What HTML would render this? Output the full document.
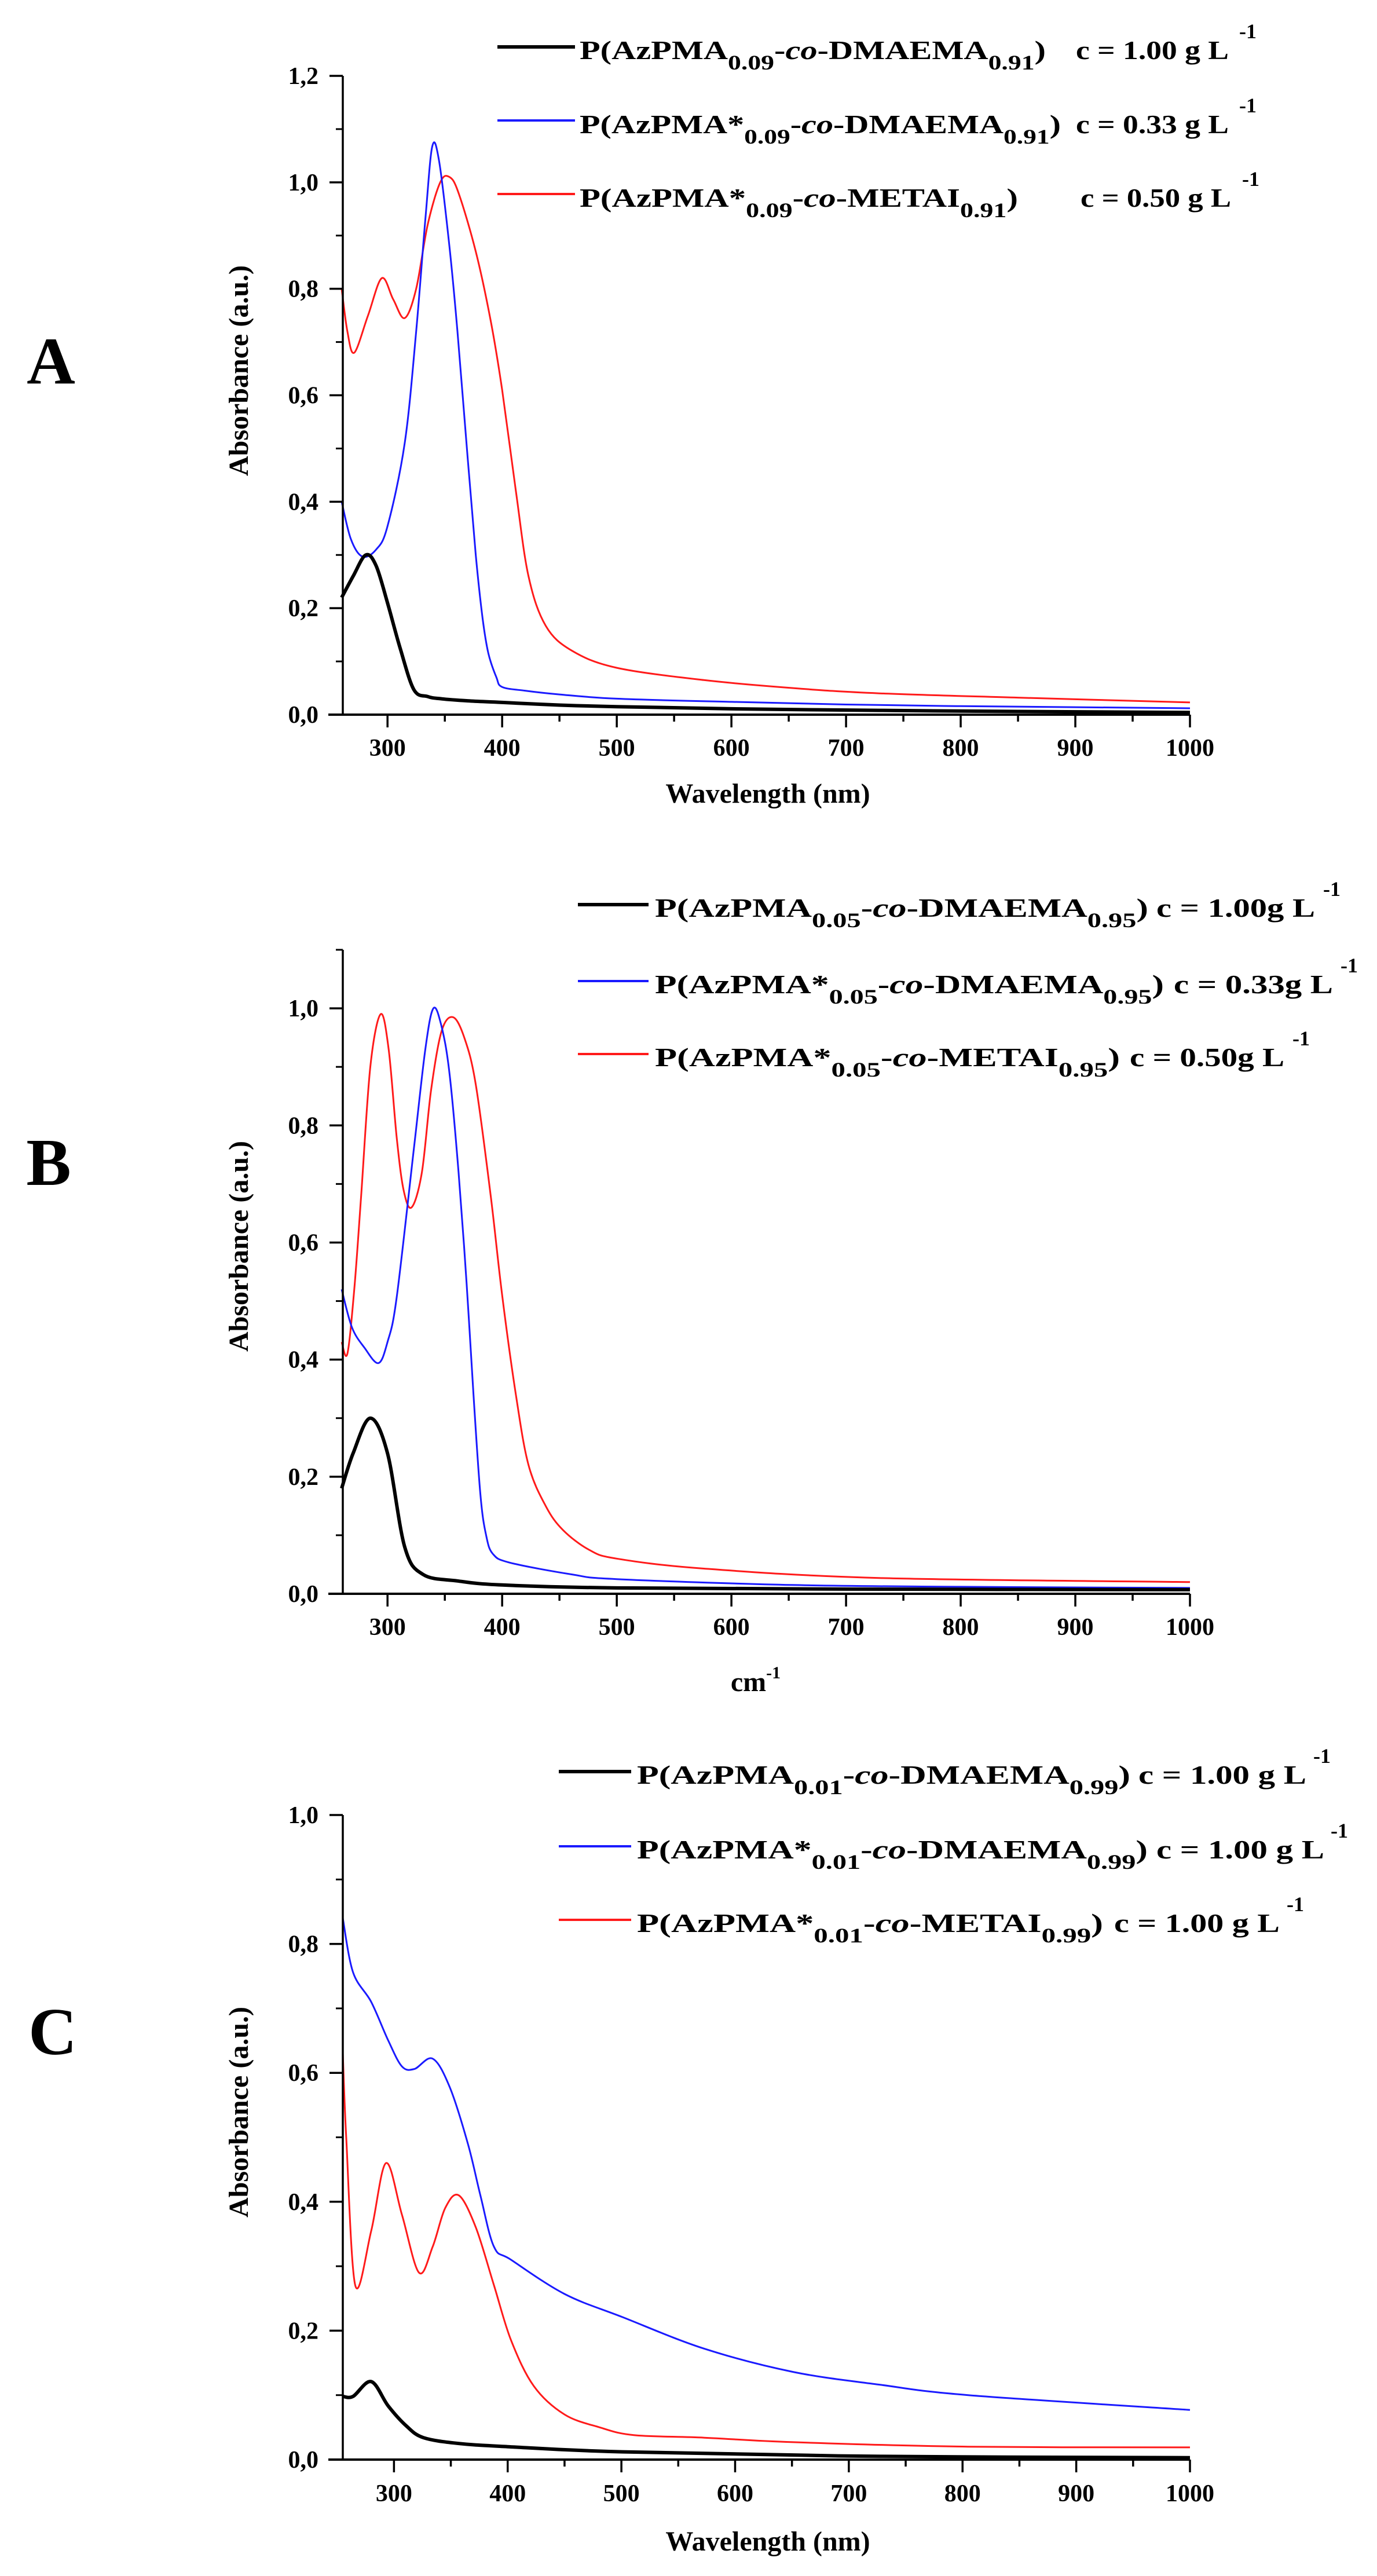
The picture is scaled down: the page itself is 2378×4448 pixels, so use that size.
<!DOCTYPE html>
<html>
<head>
<meta charset="utf-8">
<style>
html,body{margin:0;padding:0;background:#fff;}
svg{display:block;font-family:"Liberation Serif",serif;font-weight:bold;}
</style>
</head>
<body>
<svg id="fig" width="2378" height="4448" viewBox="0 0 2378 4448" xmlns="http://www.w3.org/2000/svg">
  <!-- Panel letters -->
  <text x="88" y="662" font-size="116" text-anchor="middle">A</text>
  <text x="84" y="2046" font-size="116" text-anchor="middle">B</text>
  <text x="91" y="3547" font-size="116" text-anchor="middle">C</text>

  <!-- Legend A -->
  <g>
    <line x1="859" y1="81" x2="993" y2="81" stroke="#000" stroke-width="6"/>
    <text x="1001" y="102" font-size="46" textLength="805" lengthAdjust="spacingAndGlyphs">P(AzPMA<tspan font-size="36" dy="18">0.09</tspan><tspan dy="-18">-</tspan><tspan font-style="italic">co</tspan>-DMAEMA<tspan font-size="36" dy="18">0.91</tspan><tspan dy="-18">)</tspan></text>
    <text x="1858" y="102" font-size="46" textLength="264" lengthAdjust="spacingAndGlyphs">c = 1.00 g L</text>
    <text x="2140" y="66" font-size="36">-1</text>

    <line x1="859" y1="208" x2="993" y2="208" stroke="#1a1aff" stroke-width="4"/>
    <text x="1001" y="230" font-size="46" textLength="831" lengthAdjust="spacingAndGlyphs">P(AzPMA*<tspan font-size="36" dy="18">0.09</tspan><tspan dy="-18">-</tspan><tspan font-style="italic">co</tspan>-DMAEMA<tspan font-size="36" dy="18">0.91</tspan><tspan dy="-18">)</tspan></text>
    <text x="1858" y="230" font-size="46" textLength="264" lengthAdjust="spacingAndGlyphs">c = 0.33 g L</text>
    <text x="2140" y="194" font-size="36">-1</text>

    <line x1="859" y1="335" x2="993" y2="335" stroke="#ff1a1a" stroke-width="4"/>
    <text x="1001" y="357" font-size="46" textLength="757" lengthAdjust="spacingAndGlyphs">P(AzPMA*<tspan font-size="36" dy="18">0.09</tspan><tspan dy="-18">-</tspan><tspan font-style="italic">co</tspan>-METAI<tspan font-size="36" dy="18">0.91</tspan><tspan dy="-18">)</tspan></text>
    <text x="1866" y="357" font-size="46" textLength="260" lengthAdjust="spacingAndGlyphs">c = 0.50 g L</text>
    <text x="2145" y="321" font-size="36">-1</text>
  </g>

  <!-- Legend B -->
  <g>
    <line x1="998" y1="1562" x2="1120" y2="1562" stroke="#000" stroke-width="6"/>
    <text x="1131" y="1583" font-size="46" textLength="852" lengthAdjust="spacingAndGlyphs">P(AzPMA<tspan font-size="36" dy="18">0.05</tspan><tspan dy="-18">-</tspan><tspan font-style="italic">co</tspan>-DMAEMA<tspan font-size="36" dy="18">0.95</tspan><tspan dy="-18">)</tspan></text>
    <text x="1997" y="1583" font-size="46" textLength="274" lengthAdjust="spacingAndGlyphs">c = 1.00g L</text>
    <text x="2285" y="1547" font-size="36">-1</text>

    <line x1="998" y1="1694" x2="1120" y2="1694" stroke="#1a1aff" stroke-width="4"/>
    <text x="1131" y="1715" font-size="46" textLength="879" lengthAdjust="spacingAndGlyphs">P(AzPMA*<tspan font-size="36" dy="18">0.05</tspan><tspan dy="-18">-</tspan><tspan font-style="italic">co</tspan>-DMAEMA<tspan font-size="36" dy="18">0.95</tspan><tspan dy="-18">)</tspan></text>
    <text x="2027" y="1715" font-size="46" textLength="275" lengthAdjust="spacingAndGlyphs">c = 0.33g L</text>
    <text x="2315" y="1679" font-size="36">-1</text>

    <line x1="998" y1="1820" x2="1120" y2="1820" stroke="#ff1a1a" stroke-width="4"/>
    <text x="1131" y="1841" font-size="46" textLength="803" lengthAdjust="spacingAndGlyphs">P(AzPMA*<tspan font-size="36" dy="18">0.05</tspan><tspan dy="-18">-</tspan><tspan font-style="italic">co</tspan>-METAI<tspan font-size="36" dy="18">0.95</tspan><tspan dy="-18">)</tspan></text>
    <text x="1951" y="1841" font-size="46" textLength="267" lengthAdjust="spacingAndGlyphs">c = 0.50g L</text>
    <text x="2232" y="1805" font-size="36">-1</text>
  </g>

  <!-- Legend C -->
  <g>
    <line x1="965" y1="3059" x2="1090" y2="3059" stroke="#000" stroke-width="6"/>
    <text x="1100" y="3080" font-size="46" textLength="852" lengthAdjust="spacingAndGlyphs">P(AzPMA<tspan font-size="36" dy="18">0.01</tspan><tspan dy="-18">-</tspan><tspan font-style="italic">co</tspan>-DMAEMA<tspan font-size="36" dy="18">0.99</tspan><tspan dy="-18">)</tspan></text>
    <text x="1966" y="3080" font-size="46" textLength="290" lengthAdjust="spacingAndGlyphs">c = 1.00 g L</text>
    <text x="2268" y="3044" font-size="36">-1</text>

    <line x1="965" y1="3188" x2="1090" y2="3188" stroke="#1a1aff" stroke-width="4"/>
    <text x="1100" y="3209" font-size="46" textLength="882" lengthAdjust="spacingAndGlyphs">P(AzPMA*<tspan font-size="36" dy="18">0.01</tspan><tspan dy="-18">-</tspan><tspan font-style="italic">co</tspan>-DMAEMA<tspan font-size="36" dy="18">0.99</tspan><tspan dy="-18">)</tspan></text>
    <text x="1997" y="3209" font-size="46" textLength="290" lengthAdjust="spacingAndGlyphs">c = 1.00 g L</text>
    <text x="2298" y="3173" font-size="36">-1</text>

    <line x1="965" y1="3315" x2="1090" y2="3315" stroke="#ff1a1a" stroke-width="4"/>
    <text x="1100" y="3336" font-size="46" textLength="805" lengthAdjust="spacingAndGlyphs">P(AzPMA*<tspan font-size="36" dy="18">0.01</tspan><tspan dy="-18">-</tspan><tspan font-style="italic">co</tspan>-METAI<tspan font-size="36" dy="18">0.99</tspan><tspan dy="-18">)</tspan></text>
    <text x="1924" y="3336" font-size="46" textLength="286" lengthAdjust="spacingAndGlyphs">c = 1.00 g L</text>
    <text x="2222" y="3300" font-size="36">-1</text>
  </g>

  <!-- Axis titles -->
  <text x="1326" y="1386" font-size="48" text-anchor="middle">Wavelength (nm)</text>
  <text x="1305" y="2920" font-size="48" text-anchor="middle">cm<tspan font-size="30" dy="-22">-1</tspan></text>
  <text x="1326" y="4404" font-size="48" text-anchor="middle">Wavelength (nm)</text>
  <text transform="translate(428,640) rotate(-90)" font-size="48" text-anchor="middle">Absorbance (a.u.)</text>
  <text transform="translate(428,2152) rotate(-90)" font-size="48" text-anchor="middle">Absorbance (a.u.)</text>
  <text transform="translate(428,3647) rotate(-90)" font-size="48" text-anchor="middle">Absorbance (a.u.)</text>

  <g id="plots"></g>
</svg>

<script>
// ---------- Data: Panel A ----------
const aBlackNm  = [260,270,281,290,300,311,323,335,346,370,400,450,500,600,729,850,1000];
const aBlackAbs = [0.22,0.26,0.30,0.28,0.21,0.125,0.047,0.034,0.03,0.026,0.023,0.018,0.015,0.011,0.008,0.006,0.004];
const aBlueNm   = [260,268,278,290,300,315,325,333,339,345,354,361,370,377,383,388,395,400,420,450,500,600,700,800,900,1000];
const aBlueAbs  = [0.40,0.33,0.297,0.31,0.354,0.51,0.72,0.93,1.067,1.04,0.88,0.72,0.48,0.30,0.18,0.115,0.07,0.052,0.045,0.038,0.03,0.024,0.019,0.016,0.014,0.012];
const aRedNm    = [260,265,271,283,295,305,315,325,335,346,354,362,377,390,400,412,423,438,461,500,576,653,729,850,1000];
const aRedAbs   = [0.80,0.72,0.68,0.75,0.82,0.78,0.745,0.80,0.92,1.0,1.01,0.98,0.87,0.74,0.61,0.42,0.26,0.167,0.12,0.088,0.065,0.05,0.04,0.032,0.023];

// ---------- Data: Panel B ----------
const bBlackNm  = [260,270,285,300,315,331,361,400,500,700,1000];
const bBlackAbs = [0.18,0.24,0.30,0.24,0.08,0.033,0.022,0.015,0.01,0.008,0.007];
const bBlueNm   = [260,269,280,292,300,308,323,333,340,347,354,362,369,375,381,386,392,407,461,500,653,800,1000];
const bBlueAbs  = [0.52,0.455,0.42,0.394,0.43,0.506,0.76,0.93,1.0,0.97,0.89,0.72,0.53,0.34,0.17,0.10,0.068,0.053,0.033,0.025,0.015,0.012,0.01];
const bRedNm    = [260,265,271,277,285,294,301,308,314,321,330,338,347,357,367,377,390,400,412,423,438,453,476,500,576,729,1000];
const bRedAbs   = [0.43,0.41,0.52,0.68,0.90,0.99,0.93,0.78,0.69,0.66,0.72,0.86,0.96,0.985,0.95,0.87,0.68,0.51,0.34,0.22,0.15,0.109,0.075,0.06,0.043,0.027,0.02];

// ---------- Data: Panel C ----------
const cBlackNm  = [255,264,280,295,311,326,357,400,501,728,1000];
const cBlackAbs = [0.098,0.098,0.121,0.083,0.052,0.034,0.025,0.02,0.012,0.005,0.003];
const cBlueNm   = [255,264,280,295,307,318,334,349,365,376,388,403,450,501,573,651,728,805,1000];
const cBlueAbs  = [0.84,0.756,0.71,0.65,0.61,0.606,0.622,0.578,0.49,0.41,0.33,0.31,0.257,0.221,0.172,0.136,0.116,0.1,0.077];
const cRedNm    = [255,258,266,280,293,307,322,334,345,357,372,388,403,423,450,481,511,573,651,805,1000];
const cRedAbs   = [0.63,0.5,0.27,0.355,0.46,0.38,0.29,0.33,0.39,0.41,0.36,0.27,0.185,0.114,0.07,0.05,0.038,0.034,0.027,0.02,0.019];

// ---------- Tick values ----------
const xTickValues = [300,400,500,600,700,800,900,1000];
const xTickLabels = ["300","400","500","600","700","800","900","1000"];
const aYTickValues = [0,0.2,0.4,0.6,0.8,1.0,1.2];
const aYTickLabels = ["0,0","0,2","0,4","0,6","0,8","1,0","1,2"];
const bYTickValues = [0,0.2,0.4,0.6,0.8,1.0];
const bYTickLabels = ["0,0","0,2","0,4","0,6","0,8","1,0"];
const cYTickValues = [0,0.2,0.4,0.6,0.8,1.0];
const cYTickLabels = ["0,0","0,2","0,4","0,6","0,8","1,0"];

const NS = "http://www.w3.org/2000/svg";
const root = document.getElementById('plots');

function mk(tag, attrs, parent){
  const e = document.createElementNS(NS, tag);
  for (const k in attrs) e.setAttribute(k, attrs[k]);
  parent.appendChild(e);
  return e;
}

function smoothPath(pts){
  let d = "M" + pts[0][0].toFixed(1) + "," + pts[0][1].toFixed(1);
  for (let i = 0; i < pts.length - 1; i++){
    const p0 = pts[Math.max(0,i-1)], p1 = pts[i], p2 = pts[i+1], p3 = pts[Math.min(pts.length-1,i+2)];
    const t = 0.5/3;
    const c1x = p1[0] + (p2[0]-p0[0])*t, c1y = p1[1] + (p2[1]-p0[1])*t;
    const c2x = p2[0] - (p3[0]-p1[0])*t, c2y = p2[1] - (p3[1]-p1[1])*t;
    d += " C" + c1x.toFixed(1) + "," + c1y.toFixed(1) + " " + c2x.toFixed(1) + "," + c2y.toFixed(1) + " " + p2[0].toFixed(1) + "," + p2[1].toFixed(1);
  }
  return d;
}

function drawPanel(id, cfg, yVals, yLabs, series){
  const g = mk('g', {}, root);
  
  
  const xs = v => cfg.x0 + (v - cfg.xMin) / (cfg.xMax - cfg.xMin) * (cfg.x1 - cfg.x0);
  const ys = v => cfg.yBot - v / cfg.yMax * (cfg.yBot - cfg.yTop);

  // series
  series.forEach(s => {
    const pts = s.nm.map((n, i) => [xs(n), ys(s.abs[i])]);
    const p = mk('path', {d: smoothPath(pts), fill: 'none', stroke: s.color, 'stroke-width': s.w, 'stroke-linejoin': 'round'}, g);
    
    
  });

  // axes
  const xa = mk('line', {x1: cfg.x0 - 25, y1: cfg.yBot, x2: cfg.x1, y2: cfg.yBot, stroke: '#000', 'stroke-width': 4}, g);
  
  
  const ya = mk('line', {x1: cfg.x0, y1: cfg.yTop, x2: cfg.x0, y2: cfg.yBot, stroke: '#000', 'stroke-width': 3.5}, g);
  
  

  // x ticks (major every 100, minor at 50s)
  for (let v = 300; v <= cfg.xMax; v += 50){
    const major = (v % 100 === 0);
    const t = mk('line', {x1: xs(v), y1: cfg.yBot, x2: xs(v), y2: cfg.yBot + (major ? 22 : 12), stroke: '#000', 'stroke-width': 3.5}, g);
    
    
  }
  xTickValues.forEach((v, i) => {
    const t = mk('text', {x: xs(v), y: cfg.xLabY, 'font-size': 42, 'text-anchor': 'middle'}, g);
    t.textContent = xTickLabels[i];
    
    
  });

  // y ticks (major every 0.2, minor at 0.1)
  for (let k = 1; k <= Math.round(cfg.yMax * 10); k += 2){
    const v = k / 10;
    const t = mk('line', {x1: cfg.x0 - 12, y1: ys(v), x2: cfg.x0, y2: ys(v), stroke: '#000', 'stroke-width': 3}, g);
    
    
  }
  yVals.forEach((v, i) => {
    const t = mk('line', {x1: cfg.x0 - 23, y1: ys(v), x2: cfg.x0, y2: ys(v), stroke: '#000', 'stroke-width': 3.5}, g);
    
    
    const l = mk('text', {x: cfg.x0 - 42, y: ys(v) + 14, 'font-size': 42, 'text-anchor': 'end'}, g);
    l.textContent = yLabs[i];
    
    
  });
}

drawPanel('a', {x0: 592, x1: 2055, xMin: 261, xMax: 1000, yTop: 131, yBot: 1234, yMax: 1.2, xLabY: 1305},
  aYTickValues, aYTickLabels, [
    {name: 'red', nm: aRedNm, abs: aRedAbs, color: '#ff1a1a', w: 3},
    {name: 'blue', nm: aBlueNm, abs: aBlueAbs, color: '#1a1aff', w: 3},
    {name: 'black', nm: aBlackNm, abs: aBlackAbs, color: '#000', w: 6}
  ]);

drawPanel('b', {x0: 592, x1: 2055, xMin: 261, xMax: 1000, yTop: 1640, yBot: 2752, yMax: 1.1, xLabY: 2823},
  bYTickValues, bYTickLabels, [
    {name: 'red', nm: bRedNm, abs: bRedAbs, color: '#ff1a1a', w: 3},
    {name: 'blue', nm: bBlueNm, abs: bBlueAbs, color: '#1a1aff', w: 3},
    {name: 'black', nm: bBlackNm, abs: bBlackAbs, color: '#000', w: 6}
  ]);

drawPanel('c', {x0: 592, x1: 2055, xMin: 255, xMax: 1000, yTop: 3134, yBot: 4247, yMax: 1.0, xLabY: 4319},
  cYTickValues, cYTickLabels, [
    {name: 'red', nm: cRedNm, abs: cRedAbs, color: '#ff1a1a', w: 3},
    {name: 'blue', nm: cBlueNm, abs: cBlueAbs, color: '#1a1aff', w: 3},
    {name: 'black', nm: cBlackNm, abs: cBlackAbs, color: '#000', w: 6}
  ]);
</script>
</body>
</html>
